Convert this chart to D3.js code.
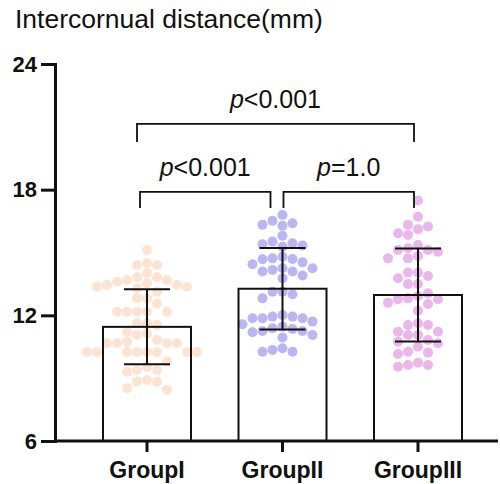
<!DOCTYPE html>
<html>
<head>
<meta charset="utf-8">
<script src="https://cdn.jsdelivr.net/npm/d3@7"></script>
<style>
  body { margin: 0; background: #fff; }
  svg { display: block; font-family: Arial, "Liberation Sans", sans-serif; }
</style>
</head>
<body>
<div id="chart"></div>
<script>
// groups and summary values (mean, SD)
var groups = ["GroupI", "GroupII", "GroupIII"];
var means = [11.45, 13.27, 12.97];
var sds = [1.79, 1.95, 2.22];
var colors = ["#fde3d2", "#b9b6f3", "#eab6eb"];

// individual points per group (mm)
var groupI = [15.12, 14.40, 14.40, 14.49, 14.01, 13.82, 13.82, 13.69, 13.69,
  13.53, 13.45, 13.37, 13.61, 13.45, 13.37, 13.29, 13.13, 12.81, 12.81, 12.57,
  12.17, 12.17, 12.17, 12.17, 12.17, 11.62, 11.62, 11.54, 11.22, 11.06, 11.14,
  10.67, 10.67, 10.82, 10.74, 10.67, 10.67, 10.25, 10.25, 10.25, 10.25, 10.25,
  10.25, 10.25, 10.25, 9.79, 9.55, 9.31, 9.39, 9.39, 8.91, 8.83, 8.83, 8.52, 8.44];
var groupII = [16.79, 16.51, 16.40, 16.32, 16.28, 15.80, 15.28, 15.52, 15.33,
  15.39, 15.44, 14.80, 14.72, 14.68, 14.44, 14.53, 14.69, 14.25, 14.09, 13.90,
  14.17, 13.77, 14.09, 14.25, 13.01, 13.13, 12.81, 13.13, 11.86, 11.86, 12.02,
  11.86, 11.94, 11.94, 11.70, 11.35, 11.25, 11.57, 11.06, 11.19, 11.38, 11.46,
  11.25, 10.94, 10.26, 10.35, 10.43, 10.26];
var groupIII = [17.48, 16.71, 16.32, 16.24, 16.11, 15.84, 15.92, 15.04, 14.72,
  15.12, 15.36, 14.83, 15.20, 14.72, 15.12, 13.77, 14.04, 13.88, 14.04, 13.50,
  13.50, 13.05, 12.77, 12.77, 12.60, 12.54, 12.92, 12.81, 12.22, 11.54, 11.06,
  11.22, 11.54, 11.62, 11.22, 11.06, 10.67, 10.74, 10.82, 10.50, 10.15, 10.26,
  10.22, 9.63, 9.63, 9.74, 9.55];
var points = [groupI, groupII, groupIII];

var yTicks = [6, 12, 18, 24];

// comparisons: [groupA, groupB, label prefix, label rest, bracket level, leg end]
var comparisons = [
  ["GroupI", "GroupIII", "p", "<0.001", 21.14, 20.28],
  ["GroupI", "GroupII", "p", "<0.001", 17.89, 17.13],
  ["GroupII", "GroupIII", "p", "=1.0", 17.89, 17.13]
];

var width = 500, height = 484;
var svg = d3.select("#chart").append("svg")
  .attr("width", width)
  .attr("height", height);

var y = d3.scaleLinear().domain([6, 24]).range([441, 64]);
var x = d3.scaleBand().domain(groups).range([79.25, 485.75]).paddingInner(0).paddingOuter(0);
var cx = function(g) { return x(g) + x.bandwidth() / 2; };
var barW = 88, capW = 46, r = 5;

// title
svg.append("text")
  .attr("x", 15).attr("y", 28)
  .attr("font-size", 26.5)
  .attr("fill", "#111")
  .text("Intercornual distance(mm)");

// bars (white fill first)
svg.selectAll(".barfill")
  .data(groups)
  .enter().append("rect")
  .attr("x", function(d) { return cx(d) - barW / 2; })
  .attr("y", function(d, i) { return y(means[i]); })
  .attr("width", barW)
  .attr("height", function(d, i) { return y(6) - y(means[i]); })
  .attr("fill", "#fff");

// simple column beeswarm
var step = 10;
groups.forEach(function(g, gi) {
  var vals = points[gi].slice().sort(function(a, b) { return b - a; });
  var placed = [];
  vals.forEach(function(v) {
    var py = y(v);
    for (var k = 0; k < 20; k++) {
      var col = (k % 2 === 1) ? -Math.ceil(k / 2) : k / 2;
      var hit = placed.some(function(p) { return p.col === col && Math.abs(p.py - py) < 2 * r; });
      if (!hit) { placed.push({col: col, py: py, v: v}); break; }
    }
  });
  svg.append("g").selectAll("circle")
    .data(placed)
    .enter().append("circle")
    .attr("cx", function(d) { return cx(g) + d.col * step; })
    .attr("cy", function(d) { return y(d.v); })
    .attr("r", r)
    .attr("fill", colors[gi]);
});

// bar outlines
svg.selectAll(".barline")
  .data(groups)
  .enter().append("rect")
  .attr("x", function(d) { return cx(d) - barW / 2; })
  .attr("y", function(d, i) { return y(means[i]); })
  .attr("width", barW)
  .attr("height", function(d, i) { return y(6) - y(means[i]); })
  .attr("fill", "none")
  .attr("stroke", "#111")
  .attr("stroke-width", 2);

// error bars
var eb = svg.append("g").attr("stroke", "#111").attr("stroke-width", 2);
groups.forEach(function(g, i) {
  var c = cx(g);
  eb.append("line").attr("x1", c).attr("x2", c).attr("y1", y(means[i] + sds[i])).attr("y2", y(means[i] - sds[i]));
  eb.append("line").attr("x1", c - capW / 2).attr("x2", c + capW / 2).attr("y1", y(means[i] + sds[i])).attr("y2", y(means[i] + sds[i]));
  eb.append("line").attr("x1", c - capW / 2).attr("x2", c + capW / 2).attr("y1", y(means[i] - sds[i])).attr("y2", y(means[i] - sds[i]));
});

// y axis
var yAxis = svg.append("g")
  .attr("transform", "translate(55,0)")
  .call(d3.axisLeft(y).tickValues(yTicks).tickSize(14).tickPadding(4));
yAxis.select(".domain").attr("stroke", "#111").attr("stroke-width", 3);
yAxis.selectAll(".tick line").attr("stroke", "#111").attr("stroke-width", 3);
yAxis.selectAll(".tick text")
  .attr("font-size", 22).attr("font-weight", "bold").attr("fill", "#111")
  .attr("font-family", "Arial, 'Liberation Sans', sans-serif");

// x axis
var xAxis = svg.append("g")
  .attr("transform", "translate(0,441)")
  .call(d3.axisBottom(x).tickSize(11).tickPadding(10).tickSizeOuter(0));
xAxis.select(".domain").attr("d", "M55,0H498").attr("stroke", "#111").attr("stroke-width", 3);
xAxis.selectAll(".tick line").attr("stroke", "#111").attr("stroke-width", 3);
xAxis.selectAll(".tick text")
  .attr("font-size", 23).attr("font-weight", "bold").attr("fill", "#111")
  .attr("font-family", "Arial, 'Liberation Sans', sans-serif");

// significance brackets
var legOff = {"GroupI|GroupIII": [-10, -4], "GroupI|GroupII": [-7, -12], "GroupII|GroupIII": [1, -4]};
var br = svg.append("g");
comparisons.forEach(function(c) {
  var off = legOff[c[0] + "|" + c[1]];
  var x1 = cx(c[0]) + off[0], x2 = cx(c[1]) + off[1];
  var yl = y(c[4]), ye = y(c[5]);
  br.append("path")
    .attr("d", "M" + x1 + "," + ye + "V" + yl + "H" + x2 + "V" + ye)
    .attr("fill", "none").attr("stroke", "#111").attr("stroke-width", 1.8);
  var t = br.append("text")
    .attr("x", (x1 + x2) / 2).attr("y", yl - 16)
    .attr("text-anchor", "middle")
    .attr("font-size", 25)
    .attr("fill", "#111");
  t.append("tspan").attr("font-style", "italic").text(c[2]);
  t.append("tspan").text(c[3]);
});
</script>
</body>
</html>
